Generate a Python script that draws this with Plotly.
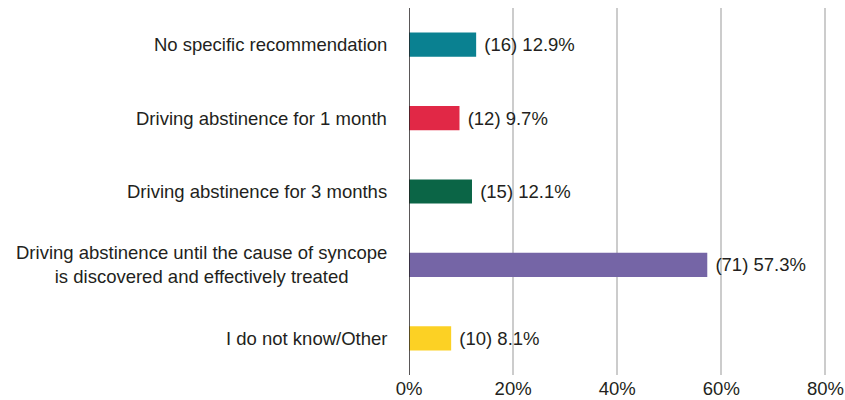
import plotly.graph_objects as go

categories = [
    "No specific recommendation",
    "Driving abstinence for 1 month",
    "Driving abstinence for 3 months",
    "Driving abstinence until the cause of syncope<br>is discovered and effectively treated",
    "I do not know/Other",
]
counts = [16, 12, 15, 71, 10]
percents = [12.9, 9.7, 12.1, 57.3, 8.1]
colors = ["#0A8191", "#E12846", "#0B6546", "#7565A6", "#FCD124"]
tick_vals = [0, 20, 40, 60, 80]
tick_text = [f"{v}%" for v in tick_vals]

FS = 18.5
TEXT = "#231f20"

fig = go.Figure(go.Bar(
    x=percents,
    y=categories,
    orientation="h",
    marker=dict(color=colors, line=dict(width=0)),
    width=0.33,
    text=[f"\u00a0({c}) {p}%" for c, p in zip(counts, percents)],
    textposition="outside",
    textfont=dict(size=FS, color=TEXT),
    cliponaxis=False,
))

# Category labels as centred annotations (multi-line label is centre aligned)
for cat in categories:
    fig.add_annotation(
        x=0, xref="paper", y=cat, yref="y",
        text=cat, showarrow=False, xanchor="right", align="center",
        xshift=-20, font=dict(size=FS, color=TEXT),
    )

fig.update_layout(
    width=845, height=400,
    margin=dict(l=409, r=18, t=8, b=25),
    plot_bgcolor="white", paper_bgcolor="white",
    font=dict(family="Liberation Sans, Arial, sans-serif", size=FS, color=TEXT),
    showlegend=False,
)
fig.update_xaxes(
    range=[0, 80.3], tickvals=tick_vals, ticktext=tick_text,
    ticklabeloverflow="allow", automargin=False,
    showgrid=True, gridcolor="#cccccc", gridwidth=1.5,
    zeroline=False, showline=False, ticks="",
)
fig.update_yaxes(
    categoryorder="array", categoryarray=categories[::-1],
    showticklabels=False, showgrid=False, zeroline=False,
    showline=False, automargin=False,
)
fig.add_vline(x=0, line=dict(color=TEXT, width=1.5))

# drop the default page margin so the 845x400 figure fills the window
fig.write_html(
    "out.html",
    config={"displayModeBar": False},
    post_script="document.body.style.margin='0';document.body.style.overflow='hidden';",
)
